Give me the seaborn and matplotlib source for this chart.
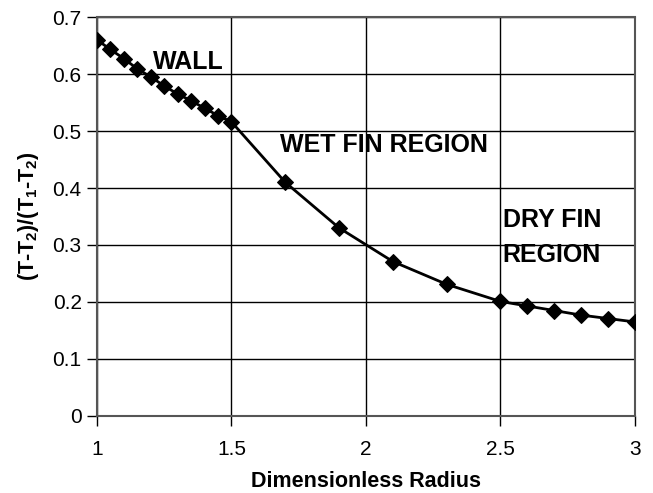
import matplotlib
matplotlib.use("Agg")
import matplotlib.pyplot as plt
import seaborn as sns
import pandas as pd

# Dimensionless radius and dimensionless temperature along the fin
radius = [1.00, 1.05, 1.10, 1.15, 1.20, 1.25, 1.30, 1.35, 1.40, 1.45, 1.50,
          1.70, 1.90, 2.10, 2.30, 2.50,
          2.60, 2.70, 2.80, 2.90, 3.00]
theta = [0.660, 0.643, 0.627, 0.609, 0.595, 0.579, 0.565, 0.553, 0.540, 0.527, 0.516,
         0.410, 0.330, 0.271, 0.231, 0.201,
         0.193, 0.185, 0.177, 0.171, 0.165]

x_ticks = [1, 1.5, 2, 2.5, 3]
x_tick_labels = ["1", "1.5", "2", "2.5", "3"]
y_ticks = [0, 0.1, 0.2, 0.3, 0.4, 0.5, 0.6, 0.7]
y_tick_labels = ["0", "0.1", "0.2", "0.3", "0.4", "0.5", "0.6", "0.7"]

df = pd.DataFrame({"radius": radius, "theta": theta})

sns.set_style("white", {"text.color": "black", "axes.labelcolor": "black",
                        "xtick.color": "black", "ytick.color": "black"})
plt.rcParams["font.family"] = ["Liberation Sans", "DejaVu Sans"]
plt.rcParams["mathtext.fontset"] = "custom"
plt.rcParams["mathtext.rm"] = "Liberation Sans:bold"
plt.rcParams["mathtext.bf"] = "Liberation Sans:bold"

fig = plt.figure(figsize=(6.53, 4.93), dpi=100)
ax = fig.add_axes([0.1485, 0.1562, 0.8239, 0.8093])

sns.lineplot(data=df, x="radius", y="theta", ax=ax, color="black",
             linewidth=2.0, marker="D", markersize=8, markeredgecolor="black",
             markerfacecolor="black", zorder=3)

ax.set_xlim(1, 3)
ax.set_ylim(0, 0.7)
ax.set_xticks(x_ticks)
ax.set_xticklabels(x_tick_labels)
ax.set_yticks(y_ticks)
ax.set_yticklabels(y_tick_labels)
ax.tick_params(axis="both", direction="out", length=7, width=1, color="black",
               labelcolor="black", labelsize=15, pad=4, bottom=True, left=True)
ax.tick_params(axis="x", pad=10)

ax.grid(True, color="black", linewidth=1.0)
ax.set_axisbelow(True)
for side in ["top", "right", "bottom", "left"]:
    ax.spines[side].set_visible(True)
    ax.spines[side].set_color("#555555")
    ax.spines[side].set_linestyle((0, (1, 1)))
    ax.spines[side].set_linewidth(1.5)

ax.set_xlabel("Dimensionless Radius", fontsize=15.5, fontweight="bold",
              labelpad=9, color="black")
ax.set_ylabel(r"(T-T$_2$)/(T$_1$-T$_2$)", fontsize=15.5, fontweight="bold",
              labelpad=8, color="black")

# Region labels
label_kw = dict(fontsize=18, fontweight="bold", ha="left", va="baseline", color="black")
ax.text(1.21, 0.608, "WALL", **label_kw)
ax.text(1.68, 0.463, "WET FIN REGION", **label_kw)
ax.text(2.508, 0.331, "DRY FIN", **label_kw)
ax.text(2.508, 0.270, "REGION", **label_kw)

fig.savefig("out.png", dpi=100)
